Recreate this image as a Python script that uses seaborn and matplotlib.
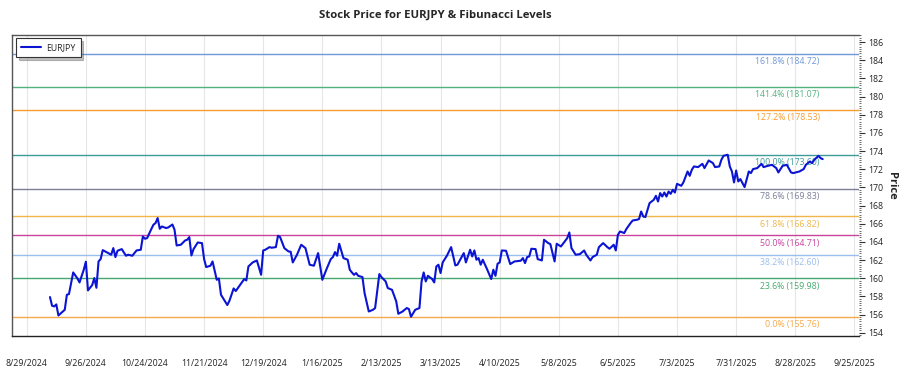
import numpy as np
import pandas as pd
import matplotlib
matplotlib.use("Agg")
import matplotlib.pyplot as plt
import matplotlib.dates as mdates
from matplotlib.ticker import MultipleLocator, FuncFormatter
import seaborn as sns

# ---------------- data ----------------
start_date = "2024-08-29"
day_offsets = [11, 12, 13, 14, 15, 18, 19, 20, 22, 24, 25, 27, 28, 29, 31, 32, 33, 34, 35, 36,
               38, 40, 41, 42, 43, 45, 47, 48, 50, 52, 54, 55, 56, 57, 59, 60, 61, 62, 63, 64,
               66, 67, 69, 70, 71, 73, 75, 76, 77, 78, 79, 81, 83, 84, 85, 87, 88, 90, 91, 92,
               95, 96, 98, 99, 103, 104, 105,
               107, 109, 111, 112, 113, 115, 116, 118, 119, 120, 122, 124, 125, 126, 128, 130,
               132, 134, 136, 138, 140, 142, 144, 145, 146, 147, 148, 150, 152, 153, 154, 155,
               156, 157, 159, 160, 162, 164, 165, 167, 168, 170, 171, 173, 175, 176, 178, 180,
               181, 182, 184, 186, 187, 188, 189, 190, 192, 193, 194, 195, 196, 197, 199, 201,
               203, 204, 207, 208, 210, 211, 212, 213, 214, 215, 216, 218, 220, 221, 222, 223,
               224, 225, 227, 229, 231, 234, 235, 236, 237, 238, 239, 241, 242, 244, 245, 247,
               248, 250, 251, 253, 254, 256, 257, 258, 260, 262, 264, 265, 267, 268, 270, 271,
               273, 275, 276, 278, 279, 280, 281, 283, 284, 286, 287, 289, 290, 291, 292,
               293, 295, 297, 298, 299, 300, 301, 302, 303, 304, 305, 306, 307, 308, 310, 311,
               313, 314, 315, 316, 318, 320, 321, 323, 325, 326, 328, 329, 330, 332, 333, 334,
               335, 336, 337, 338, 340, 342, 343, 344, 346, 348, 349, 351, 353, 355, 356, 358,
               360, 362, 363, 366, 368, 369, 371, 372, 373, 375, 376, 377]

prices = [157.93, 156.97, 156.90, 157.12, 155.90, 156.53, 158.18, 158.26, 160.64, 159.98,
          159.54, 160.94, 161.82, 158.66, 159.25, 160.02, 158.95, 161.85, 162.11, 163.10,
          162.84, 162.59, 163.32, 162.33, 163.03, 163.21, 162.48, 162.59, 162.48, 163.06,
          163.14, 164.60, 164.35, 164.42, 165.42, 165.89, 166.08, 166.63, 165.45, 165.70,
          165.53, 165.59, 165.92, 165.34, 163.61, 163.69, 164.16, 164.24, 164.53, 162.51,
          163.21, 163.94, 163.87, 162.11, 161.23, 161.38, 161.85, 159.83, 159.98, 158.18,
          157.05, 157.52, 158.88, 158.59, 159.91, 159.76, 161.30,
          161.74, 161.96, 160.38, 163.06, 163.14, 163.43, 163.36, 163.43, 164.68, 164.53,
          163.32, 162.95, 162.92, 161.74, 162.59, 163.69, 163.32, 161.49, 161.38, 162.77,
          159.83, 161.01, 162.11, 162.33, 162.88, 162.48, 163.80, 162.22, 162.04, 160.94,
          160.64, 160.38, 160.57, 160.27, 160.13, 158.37, 156.34, 156.53, 156.72, 160.46,
          160.13, 159.65, 158.92, 158.73, 157.45, 156.09, 156.34, 156.72, 156.61, 155.76,
          156.53, 156.72, 159.65, 160.64, 159.65, 160.27, 159.91, 159.54, 161.30, 161.49,
          160.57, 161.74, 162.48, 163.43,
          161.41, 161.49, 162.77, 161.74, 163.14, 162.40, 163.06, 162.04, 162.22, 161.49,
          162.04, 161.01, 159.91, 160.94, 160.27, 161.60, 161.74, 163.06, 163.03, 161.56,
          161.85, 161.93, 162.22, 161.67, 162.33, 162.40, 163.25, 163.21, 162.11, 161.96,
          164.24, 163.87, 163.76, 161.85, 163.80, 163.50, 163.80, 164.42, 165.04, 163.32,
          162.59, 162.66, 163.06, 162.59, 161.96, 162.33, 162.59, 163.43, 163.87, 163.43,
          163.25, 163.69, 163.06, 164.79, 165.15, 164.98, 165.42, 166.08, 166.36, 166.44,
          166.52, 167.35, 166.80,
          166.74, 168.28, 168.64, 169.08, 168.45, 169.38, 169.00, 169.44, 169.00, 169.55,
          169.30, 169.74, 169.44, 170.40, 170.18, 170.55, 171.76, 171.28, 171.94, 172.31,
          172.24, 172.60, 172.13, 172.97, 172.68, 172.24, 172.31, 173.04, 173.48, 173.60,
          172.31, 171.76, 170.55, 171.87, 170.66, 170.92, 170.04, 171.76, 171.58, 172.02,
          172.13, 172.60, 172.24, 172.38, 172.49, 172.13, 171.65, 172.38, 172.49, 171.65,
          171.58, 171.76, 172.02, 172.49, 172.86, 172.68, 173.04, 173.48, 173.23, 173.12]

series_name = "EURJPY"

fib_labels = ["0.0%", "23.6%", "38.2%", "50.0%", "61.8%", "78.6%",
              "100.0%", "127.2%", "141.4%", "161.8%"]
fib_values = [155.76, 159.98, 162.60, 164.71, 166.82, 169.83,
              173.60, 178.53, 181.07, 184.72]
fib_colors = ["#f5a94a", "#45a86e", "#9bbdf0", "#c8449c", "#f0b64a", "#7b7e98",
              "#3c9c98", "#f59d30", "#52b27e", "#7098d8"]

tick_dates = pd.date_range("2024-08-29", "2025-09-25", freq="28D")

# ---------------- figure ----------------
sns.set_style("white")
plt.rcParams["font.family"] = ["Open Sans", "DejaVu Sans"]

dates = pd.Timestamp(start_date) + pd.to_timedelta(day_offsets, unit="D")
df = pd.DataFrame({"Date": dates, "Price": prices})

fig = plt.figure(figsize=(9, 3.75), dpi=100)
ax = fig.add_axes([0.0133, 0.103, 0.9407, 0.804])

# vertical grid
ax.grid(axis="x", color="#e6e6e6", linewidth=0.8)
ax.grid(axis="y", visible=False)
ax.set_axisbelow(True)

# fib lines + labels
for lab, val, col in zip(fib_labels, fib_values, fib_colors):
    ax.axhline(val, color=col, linewidth=1.0, zorder=1)
    ax.annotate(f"{lab} ({val:.2f})", xy=(0.954, val), xycoords=("axes fraction", "data"),
                xytext=(0, -2.5), textcoords="offset points", ha="right", va="top",
                fontsize=6.3, color=col, zorder=2)

sns.lineplot(data=df, x="Date", y="Price", ax=ax, color="#0a14d2", linewidth=1.5,
             label=series_name, zorder=3)

ax.set_xlim(pd.Timestamp("2024-08-22"), pd.Timestamp("2025-09-27"))
ax.set_ylim(153.6, 186.8)

ax.set_xticks(tick_dates)
ax.xaxis.set_major_formatter(FuncFormatter(
    lambda v, p: (lambda d: f"{d.month}/{d.day}/{d.year}")(mdates.num2date(v))))
ax.yaxis.set_major_locator(MultipleLocator(2))
ax.yaxis.set_minor_locator(MultipleLocator(0.25))
ax.yaxis.tick_right()
ax.yaxis.set_label_position("right")
ax.tick_params(axis="x", which="major", length=4, width=0.8, color="#333333",
               labelsize=6.3, pad=12, labelcolor="#222222")
ax.tick_params(axis="y", which="major", length=4, width=0.8, color="#333333",
               labelsize=6.3, pad=3, labelcolor="#222222", right=True, left=False)
ax.tick_params(axis="y", which="minor", length=1.5, width=0.6, color="#555555",
               right=True, left=False)

ax.set_xlabel("")
ax.set_ylabel("Price", fontsize=8, fontweight="bold", rotation=270, labelpad=10)
ax.set_title("Stock Price for EURJPY & Fibunacci Levels", fontsize=8.2,
             fontweight="bold", pad=12)

for side in ["left", "top"]:
    ax.spines[side].set_color("#555555")
    ax.spines[side].set_linewidth(1.0)
ax.spines["bottom"].set_color("#222222")
ax.spines["bottom"].set_linewidth(1.0)
ax.spines["right"].set_visible(False)

leg = ax.legend(loc="upper left", bbox_to_anchor=(0.005, 0.99), borderaxespad=0,
                fontsize=6.3, frameon=True, fancybox=False,
                shadow={"alpha": 0.35, "ox": 2, "oy": -2},
                handlelength=2.2, handletextpad=0.6, borderpad=0.6)
leg.get_frame().set_edgecolor("#333333")
leg.get_frame().set_linewidth(0.8)

fig.savefig("out.png", dpi=100)
